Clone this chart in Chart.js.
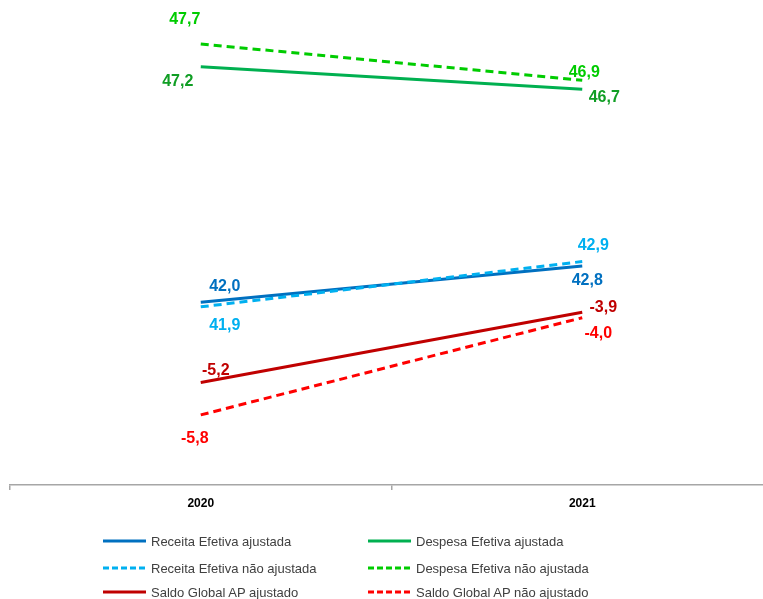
<!DOCTYPE html>
<html>
<head>
<meta charset="utf-8">
<script src="https://cdn.jsdelivr.net/npm/chart.js@4/dist/chart.umd.min.js"></script>
<style>
  html, body { margin: 0; padding: 0; background: #fff; }
  #wrap { position: relative; width: 763px; height: 599px; overflow: hidden; }
  #chart { position: absolute; left: 0; top: 0; }
  #legend { position: absolute; left: 0; top: 0; width: 763px; height: 599px; pointer-events: none; }
  .item { position: absolute; display: flex; align-items: center; font-family: "Liberation Sans", Arial, sans-serif; font-size: 13px; color: #404040; white-space: nowrap; }
  .item svg { margin-right: 5px; }
</style>
</head>
<body>
<div id="wrap">
  <canvas id="chart" width="775" height="515"></canvas>
  <div id="legend"></div>
</div>
<script>
// Categories
const years = ['2020', '2021'];

// Series values (% do PIB)
const receitaAjustada = [42.0, 42.8];
const despesaAjustada = [47.2, 46.7];
const receitaNaoAjustada = [41.9, 42.9];
const despesaNaoAjustada = [47.7, 46.9];
const saldoAjustado = [-5.2, -3.9];
const saldoNaoAjustado = [-5.8, -4.0];

// Series names
const seriesNames = [
  'Receita Efetiva ajustada',
  'Despesa Efetiva ajustada',
  'Receita Efetiva não ajustada',
  'Despesa Efetiva não ajustada',
  'Saldo Global AP ajustado',
  'Saldo Global AP não ajustado'
];

function series(label, data, color, labelColor, dashed, axis) {
  return {
    label: label,
    data: data,
    borderColor: color,
    backgroundColor: color,
    labelColor: labelColor,
    borderWidth: 3,
    borderDash: dashed ? [8, 5] : [],
    borderCapStyle: 'butt',
    pointRadius: 0,
    tension: 0,
    yAxisID: axis,
    order: dashed ? 1 : 2,
    fill: false
  };
}

const datasets = [
  series(seriesNames[0], receitaAjustada, '#0070C0', '#0070C0', false, 'y'),
  series(seriesNames[1], despesaAjustada, '#00B050', '#109E24', false, 'y'),
  series(seriesNames[2], receitaNaoAjustada, '#00B0F0', '#00B0F0', true, 'y'),
  series(seriesNames[3], despesaNaoAjustada, '#00CC00', '#00CC00', true, 'y'),
  series(seriesNames[4], saldoAjustado, '#C00000', '#C00000', false, 'y1'),
  series(seriesNames[5], saldoNaoAjustado, '#FF0000', '#FF0000', true, 'y1')
];

// Value labels placed beside each end point (pixel offsets per dataset/point)
const valueLabels = {
  id: 'valueLabels',
  afterDatasetsDraw(chart, args, opts) {
    const ctx = chart.ctx;
    ctx.save();
    ctx.font = 'bold 16px "Liberation Sans", Arial, sans-serif';
    ctx.textAlign = 'center';
    ctx.textBaseline = 'middle';
    chart.data.datasets.forEach((ds, di) => {
      const meta = chart.getDatasetMeta(di);
      meta.data.forEach((pt, i) => {
        const off = opts.offsets[di][i];
        ctx.fillStyle = ds.labelColor;
        ctx.fillText(ds.data[i].toFixed(1).replace('.', ','), pt.x + off[0], pt.y + off[1]);
      });
    });
    ctx.restore();
  }
};

const chart = new Chart(document.getElementById('chart'), {
  type: 'line',
  data: { labels: years, datasets: datasets },
  plugins: [valueLabels],
  options: {
    responsive: false,
    animation: false,
    layout: { padding: { left: 10, right: 2, top: 0, bottom: 0 } },
    plugins: {
      legend: { display: false },
      tooltip: { enabled: false },
      valueLabels: {
        offsets: [
          [[24, -16], [5, 15]],
          [[-23, 15], [22, 8]],
          [[24, 19], [11, -16]],
          [[-16, -24], [2, -8]],
          [[15, -12], [21, -5]],
          [[-6, 24], [16, 16]]
        ]
      }
    },
    scales: {
      x: {
        offset: true,
        grid: {
          offset: true,
          drawOnChartArea: false,
          drawTicks: true,
          tickLength: 5,
          color: '#A6A6A6',
          lineWidth: 1.5
        },
        border: { display: true, color: '#A6A6A6', width: 1.5 },
        ticks: {
          color: '#000',
          padding: 6,
          font: { family: '"Liberation Sans", Arial, sans-serif', size: 12, weight: 'bold' }
        },
        afterFit(scale) { scale.height = 30; }
      },
      y: { display: false, position: 'left', min: 37.97, max: 48.67 },
      y1: { display: false, position: 'right', min: -7.098, max: 1.883 }
    }
  }
});

// Two-column legend below the plot
const legendPos = [
  { x: 103, y: 541 }, { x: 368, y: 541 },
  { x: 103, y: 568 }, { x: 368, y: 568 },
  { x: 103, y: 592 }, { x: 368, y: 592 }
];
const legendEl = document.getElementById('legend');
chart.data.datasets.forEach((ds, i) => {
  const item = document.createElement('div');
  item.className = 'item';
  item.style.left = legendPos[i].x + 'px';
  item.style.top = (legendPos[i].y - 9) + 'px';
  item.style.height = '18px';
  const dash = ds.borderDash.length ? 'stroke-dasharray="6 3"' : '';
  item.innerHTML =
    '<svg width="43" height="6"><line x1="0" y1="3" x2="43" y2="3" stroke="' + ds.borderColor +
    '" stroke-width="3" ' + dash + '/></svg><span>' + ds.label + '</span>';
  legendEl.appendChild(item);
});
</script>
</body>
</html>
